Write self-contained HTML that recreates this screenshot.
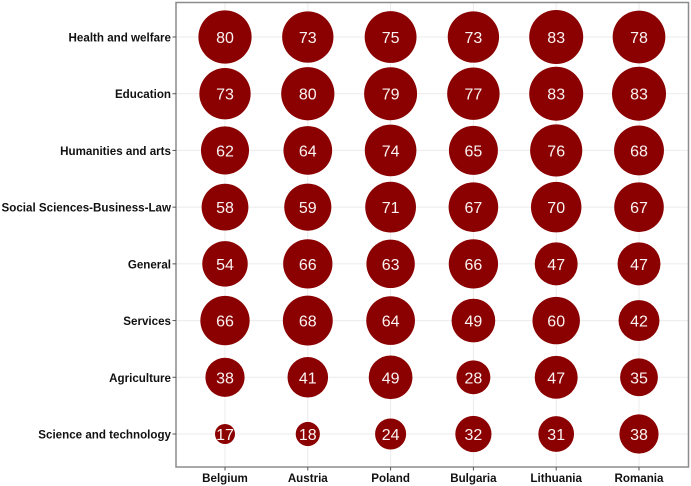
<!DOCTYPE html>
<html>
<head>
<meta charset="utf-8">
<style>
html,body{margin:0;padding:0;background:#fff;width:691px;height:486px;overflow:hidden}
svg{display:block;font-family:"Liberation Sans",Arial,sans-serif}
</style>
</head>
<body>
<svg id="chart" width="691" height="486" viewBox="0 0 691 486" xmlns="http://www.w3.org/2000/svg"></svg>
<script>
const countries = ['Belgium','Austria','Poland','Bulgaria','Lithuania','Romania'];
const fields = ['Health and welfare','Education','Humanities and arts','Social Sciences-Business-Law','General','Services','Agriculture','Science and technology'];
const healthWelfare = [80,73,75,73,83,78];
const education = [73,80,79,77,83,83];
const humanitiesArts = [62,64,74,65,76,68];
const socialSciences = [58,59,71,67,70,67];
const general = [54,66,63,66,47,47];
const services = [66,68,64,49,60,42];
const agriculture = [38,41,49,28,47,35];
const scienceTech = [17,18,24,32,31,38];
const seriesRows = [healthWelfare,education,humanitiesArts,socialSciences,general,services,agriculture,scienceTech];

const NS = 'http://www.w3.org/2000/svg';
const svg = document.getElementById('chart');
const panel = {left:176, top:2.5, right:688.5, bottom:467};
const xScale = i => 225 + i * (639 - 225) / (countries.length - 1);
const yScale = j => 37 + j * (434 - 37) / (fields.length - 1);
const allValues = seriesRows.flat();
const vMin = Math.min(...allValues);
const vMax = Math.max(...allValues);
const rScale = v => 10 + 17 * Math.sqrt((v - vMin) / (vMax - vMin));
const slug = s => s.toLowerCase().replace(/[^a-z0-9]+/g, '-');

function make(tag, attrs, text) {
  const el = document.createElementNS(NS, tag);
  for (const k in attrs) el.setAttribute(k, attrs[k]);
  if (text !== undefined) el.textContent = text;
  svg.appendChild(el);
  return el;
}

countries.forEach((c, i) => {
  const grid = make('line', {x1:xScale(i), x2:xScale(i), y1:panel.top, y2:panel.bottom, stroke:'#ebebeb', 'stroke-width':1});
  
  
});
fields.forEach((f, j) => {
  const grid = make('line', {x1:panel.left, x2:panel.right, y1:yScale(j), y2:yScale(j), stroke:'#ebebeb', 'stroke-width':1});
  
  
});

seriesRows.forEach((row, j) => {
  row.forEach((v, i) => {
    const dot = make('circle', {cx:xScale(i), cy:yScale(j), r:rScale(v), fill:'#8b0000'});
    
    
    const label = make('text', {x:xScale(i), y:yScale(j) + 6, 'text-anchor':'middle', 'font-size':'16', fill:'#fbf3f3'}, String(v));
    
    
  });
});

const border = make('rect', {x:panel.left, y:panel.top, width:panel.right - panel.left, height:panel.bottom - panel.top, fill:'none', stroke:'#8c8c8c', 'stroke-width':1.5});



fields.forEach((f, j) => {
  const tick = make('line', {x1:panel.left - 3.5, x2:panel.left, y1:yScale(j), y2:yScale(j), stroke:'#555555', 'stroke-width':1});
  
  
  const label = make('text', {x:171, y:yScale(j) + 4.5, 'text-anchor':'end', 'font-size':'11.6', 'font-weight':'700', fill:'#111111'}, f);
  
  
});
countries.forEach((c, i) => {
  const tick = make('line', {x1:xScale(i), x2:xScale(i), y1:panel.bottom, y2:panel.bottom + 3.5, stroke:'#555555', 'stroke-width':1});
  
  
  const label = make('text', {x:xScale(i), y:482, 'text-anchor':'middle', 'font-size':'11.6', 'font-weight':'700', fill:'#111111'}, c);
  
  
});
</script>
</body>
</html>
